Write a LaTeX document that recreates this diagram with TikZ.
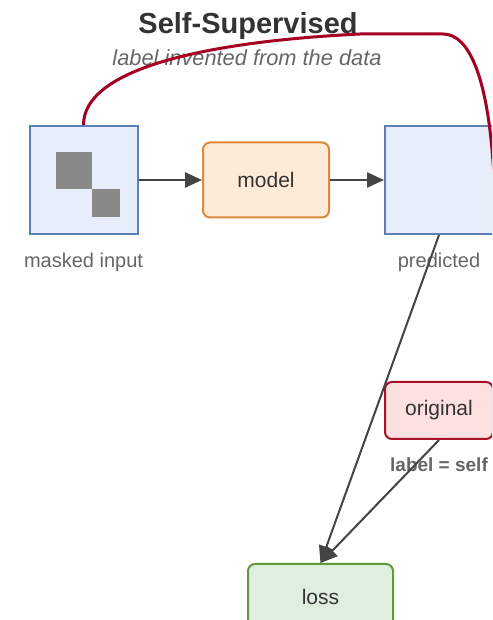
\documentclass[tikz,border=0pt]{standalone}
\usepackage{fontspec}
\setmainfont{Liberation Sans}
\usetikzlibrary{arrows.meta}

\begin{document}
\begin{tikzpicture}[x=1pt,y=1pt,
  box/.style={draw, line width=2pt, inner sep=0pt, text=textColor, font=\fontsize{21}{25}\selectfont},
  rbox/.style={box, rounded corners=7pt},
  boxcaption/.style={anchor=base, text=capColor, font=\fontsize{20}{24}\selectfont},
  flow/.style={draw=arrowColor, line width=2.5pt, -{Triangle[length=17pt,width=15pt]}},
  slant/.style={draw=arrowColor, line width=2pt, -{Triangle[length=17pt,width=15pt]}},
  selflink/.style={draw=linkColor, line width=3pt}]
\definecolor{textColor}{RGB}{51,51,51}
\definecolor{capColor}{RGB}{102,102,102}
\definecolor{arrowColor}{RGB}{68,68,68}
\definecolor{linkColor}{RGB}{165,0,33}
\definecolor{blueFill}{RGB}{231,238,250}
\definecolor{blueDraw}{RGB}{91,127,185}
\definecolor{orangeFill}{RGB}{253,235,215}
\definecolor{orangeDraw}{RGB}{219,138,58}
\definecolor{redFill}{RGB}{253,224,224}
\definecolor{redDraw}{RGB}{168,16,42}
\definecolor{greenFill}{RGB}{223,238,223}
\definecolor{greenDraw}{RGB}{98,153,62}
\definecolor{maskColor}{RGB}{136,136,136}
\path[use as bounding box,fill=white] (0,0) rectangle (492,620);
\begin{scope}
\path[clip] (0,0) rectangle (492,620);

% headings
\node[anchor=base, text=textColor, font=\bfseries\fontsize{29}{35}\selectfont] (title) at (248,586.5) {Self-Supervised};
\node[anchor=base, text=capColor, font=\itshape\fontsize{21.8}{26}\selectfont] (subtitle) at (247,554) {label invented from the data};

% boxes
\node[box, fill=blueFill, draw=blueDraw, minimum width=108pt, minimum height=108pt] (masked) at (83.5,440) {};
\fill[maskColor] (56,468) rectangle (92,431);
\fill[maskColor] (92,431) rectangle (120,403);
\node[rbox, fill=orangeFill, draw=orangeDraw, minimum width=126pt, minimum height=75pt] (model) at (266,440) {model};
\node[box, fill=blueFill, draw=blueDraw, minimum width=108pt, minimum height=108pt] (pred) at (439,440) {};
\node[rbox, fill=redFill, draw=redDraw, minimum width=108pt, minimum height=57pt] (orig) at (439,209.5) {original};
\node[rbox, fill=greenFill, draw=greenDraw, minimum width=145pt, minimum height=66pt] (loss) at (320.5,23) {loss};

% captions
\node[boxcaption] (maskedcap) at (83.5,352) {masked input};
\node[boxcaption] (predcap) at (439,352) {predicted};
\node[anchor=base, text=capColor, font=\bfseries\fontsize{19}{23}\selectfont] (selfcap) at (439,148) {label = self};

% connectors
\draw[flow] (masked) -- (model);
\draw[flow] (model) -- (pred);
\draw[slant] (pred.south) -- (loss.north);
\draw[slant] (orig.south) -- (loss.north);
\coordinate (tgt) at (498,400);
\draw[selflink] (masked.north) .. controls (83.5,550) and (200,578) .. (360,586) -- (443,586)
  .. controls (470,586) and (486,540) .. (492,470) -- (tgt);
\end{scope}
\end{tikzpicture}
\end{document}
